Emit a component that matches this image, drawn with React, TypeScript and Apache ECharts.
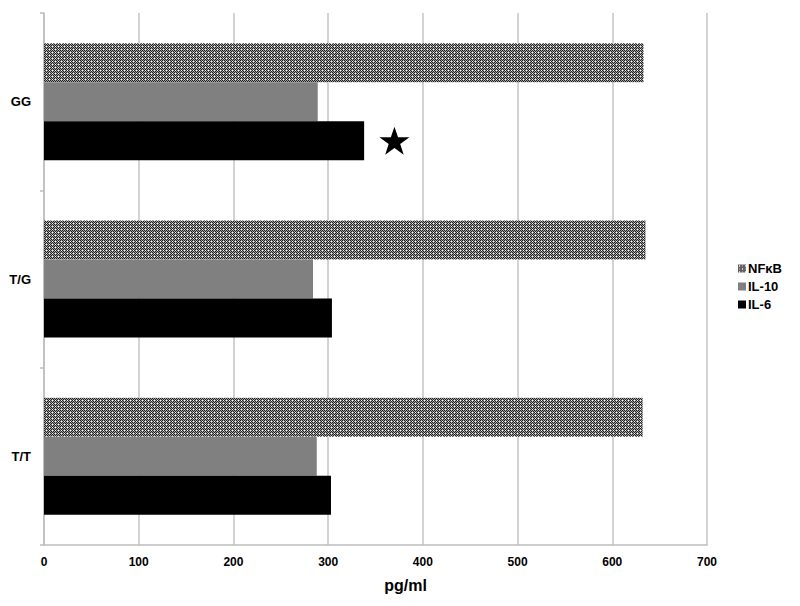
import React, { useEffect, useRef } from "react";
import * as echarts from "echarts";

const categories = ["T/T", "T/G", "GG"];
const il6 = [303, 304, 338];
const il10 = [288, 284, 289];
const nfkb = [632, 635, 633];
const xTicks = [0, 100, 200, 300, 400, 500, 600, 700];
const starPoint = { x: 370, category: "GG" };

const STAR =
  "path://M50,0 L61.8,35.1 L98.9,35.1 L68.8,56.8 L80.2,91.9 L50,70.2 L19.8,91.9 L31.2,56.8 L1.1,35.1 L38.2,35.1 Z";

function makePattern(): HTMLCanvasElement {
  const c = document.createElement("canvas");
  c.width = 6;
  c.height = 6;
  const ctx = c.getContext("2d")!;
  for (let i = 0; i < 6; i++) {
    for (let j = 0; j < 6; j++) {
      ctx.fillStyle = (i + j) % 2 === 0 ? "#222222" : "#a0a0a0";
      ctx.fillRect(i, j, 1, 1);
    }
  }
  ctx.fillStyle = "#ffffff";
  ctx.fillRect(1, 1, 1, 1);
  ctx.fillRect(4, 4, 1, 1);
  ctx.fillRect(1, 4, 1, 1);
  ctx.fillRect(4, 1, 1, 1);
  return c;
}

export default function App() {
  const ref = useRef<HTMLDivElement>(null);
  useEffect(() => {
    if (!ref.current) return;
    const chart = echarts.init(ref.current, null, { renderer: "svg" });
    const pattern = makePattern();
    const patternColor: any = {
      image: pattern,
      repeat: "repeat",
      imageWidth: 6,
      imageHeight: 6,
    };
    const font = "Liberation Sans, Arial, sans-serif";
    chart.setOption({
      animation: false,
      backgroundColor: "#ffffff",
      textStyle: { fontFamily: font },
      grid: { left: 44, right: 93, top: 13, bottom: 61, containLabel: false },
      legend: {
        orient: "vertical",
        left: 733,
        top: 257,
        itemWidth: 8,
        itemHeight: 8,
        itemGap: 5,
        icon: "rect",
        data: ["NFκB", "IL-10", "IL-6"],
        textStyle: {
          fontFamily: font,
          fontWeight: "bold",
          fontSize: 13,
          color: "#000",
          padding: [0, 0, 0, -3],
        },
      },
      xAxis: {
        type: "value",
        min: xTicks[0],
        max: xTicks[xTicks.length - 1],
        interval: 100,
        name: "pg/ml",
        nameLocation: "middle",
        nameGap: 32,
        nameTextStyle: {
          fontFamily: font,
          fontWeight: "bold",
          fontSize: 16,
          color: "#000",
          padding: [0, 0, 0, 60],
        },
        axisLine: { show: true, lineStyle: { color: "#bdbdbd", width: 1.5 } },
        axisTick: { show: false },
        axisLabel: {
          fontFamily: font,
          fontWeight: "bold",
          fontSize: 12,
          color: "#000",
          margin: 11,
        },
        splitLine: { show: true, lineStyle: { color: "#c4c4c4", width: 1.5 } },
      },
      yAxis: {
        type: "category",
        data: categories,
        axisLine: { show: true, lineStyle: { color: "#bdbdbd", width: 1.5 } },
        axisTick: {
          show: true,
          length: 4,
          lineStyle: { color: "#bdbdbd", width: 1.5 },
        },
        axisLabel: {
          fontFamily: font,
          fontWeight: "bold",
          fontSize: 13,
          color: "#000",
          margin: 13,
        },
      },
      series: [
        {
          name: "NFκB",
          type: "bar",
          data: nfkb,
          barGap: "0%",
          barCategoryGap: "34%",
          itemStyle: { color: patternColor },
        },
        {
          name: "IL-10",
          type: "bar",
          data: il10,
          barGap: "0%",
          barCategoryGap: "34%",
          itemStyle: { color: "#808080" },
        },
        {
          name: "IL-6",
          type: "bar",
          data: il6,
          barGap: "0%",
          barCategoryGap: "34%",
          itemStyle: { color: "#000000" },
          markPoint: {
            symbol: STAR,
            symbolSize: [30, 28],
            label: { show: false },
            itemStyle: { color: "#000000" },
            data: [{ coord: [starPoint.x, starPoint.category] }],
          },
        },
      ],
    });
    return () => chart.dispose();
  }, []);
  return (
    <div
      ref={ref}
      style={{ position: "absolute", left: 0, top: 0, width: 800, height: 606 }}
    />
  );
}
